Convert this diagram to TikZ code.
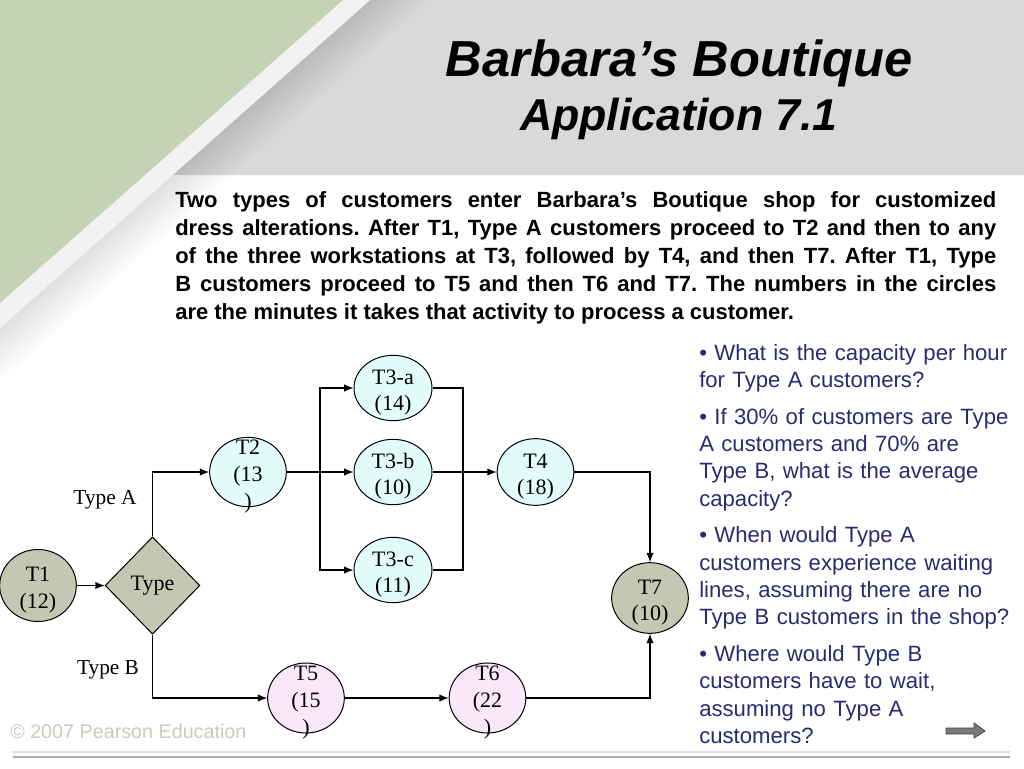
\documentclass[tikz,border=0pt]{standalone}
\usepackage{fontspec}
\setmainfont{Liberation Serif}
\newfontfamily\arialfont{Liberation Sans}
\usepackage{tikz}
\usetikzlibrary{positioning, calc}
\usetikzlibrary{arrows.meta, shapes.geometric}
\definecolor{headgray}{RGB}{217,217,217}
\definecolor{slidegreen}{RGB}{198,210,180}
\definecolor{olivefill}{RGB}{196,200,178}
\definecolor{cyanfill}{RGB}{226,252,252}
\definecolor{pinkfill}{RGB}{250,232,250}
\definecolor{quesblue}{RGB}{42,42,112}
\definecolor{footgray}{RGB}{200,204,190}
\tikzstyle{task}=[ellipse,draw=black,line width=0.75pt,inner sep=0pt,
minimum width=57.5pt,minimum height=51pt,font=\fontsize{16.5}{20}\selectfont]
\tikzstyle{decision}=[diamond,draw=black,line width=0.75pt,fill=olivefill,
inner sep=0pt,minimum width=71pt,minimum height=73pt,font=\fontsize{16.5}{20}\selectfont]
\tikzstyle{textbox}=[inner sep=0pt,font=\fontsize{16}{19}\selectfont]
\tikzstyle{edgepath} = [-{Latex[length=7pt,width=5.5pt]},line width=0.8pt]
\tikzstyle{wire} = [line width=0.8pt]
\newcommand{\tlines}[1]{\raisebox{-0.45em}[0pt][0pt]{\begin{tabular}{@{}c@{}}#1\end{tabular}}}

\begin{document}
\begin{tikzpicture}[x=0.75pt,y=-0.75pt]
    \useasboundingbox (0,0) rectangle (1024,768);
    % slide background
    \fill[headgray] (370,0) -- (1024,0) -- (1024,175) -- (172.6,175) -- cycle;
    \foreach \d in {4,8,...,40}
        \fill[black,fill opacity=0.012] (370,0) -- ({(245.5+\d)/0.6634},0)
            -- (0,{(245.5+\d)/0.7484}) -- (0,328) -- cycle;
    \fill[gray!10] (343,0) -- (370,0) -- (0,328) -- (0,303) -- cycle;
    \fill[slidegreen] (0,0) -- (343,0) -- (0,303) -- cycle;

    \node[align=center,font=\arialfont\bfseries\itshape\fontsize{38}{40.5}\selectfont]
        (title) at (679,89.5) {Barbara’s Boutique\\{\fontsize{33.5}{40.5}\selectfont Application 7.1}};
    \node[anchor=north west,text width=615.75pt,align=justify,inner sep=0pt,
        font=\arialfont\bfseries\fontsize{16.5}{21}\selectfont] (intro) at (175,191)
        {\tolerance=10000\hyphenpenalty=10000\frenchspacing
        Two types of customers enter Barbara’s Boutique shop for customized\linebreak
        dress alterations. After T1, Type A customers proceed to T2 and then to any\linebreak
        of the three workstations at T3, followed by T4, and then T7. After T1, Type\linebreak
        B customers proceed to T5 and then T6 and T7. The numbers in the circles\linebreak
        are the minutes it takes that activity to process a customer.};

    % process network
    \node[task, fill=olivefill, minimum height=54pt] (t1) at (38,585.5) {\tlines{T1\\(12)}};
    \node[decision] (type) at (152.5,585.5) {Type};
    \node[task, fill=cyanfill, minimum height=52pt] (t2) at (248,472) {\tlines{T2\\(13\\)}};
    \node[task, fill=cyanfill, minimum width=58.5pt, minimum height=49pt] (t3a) at (393,388) {\tlines{T3-a\\(14)}};
    \node[task, fill=cyanfill, minimum width=58.5pt, minimum height=49pt] (t3b) at (393,472) {\tlines{T3-b\\(10)}};
    \node[task, fill=cyanfill, minimum width=58.5pt, minimum height=49pt] (t3c) at (393,570) {\tlines{T3-c\\(11)}};
    \node[task, fill=cyanfill, minimum height=50pt] (t4) at (535.5,472) {\tlines{T4\\(18)}};
    \node[task, fill=olivefill, minimum height=53pt] (t7) at (650,598) {\tlines{T7\\(10)}};
    \node[task, fill=pinkfill, minimum height=52.5pt] (t5) at (306,698) {\tlines{T5\\(15\\)}};
    \node[task, fill=pinkfill, minimum height=52.5pt] (t6) at (487.5,698) {\tlines{T6\\(22\\)}};
    \node[textbox] (typea) at (105,500) {Type A};
    \node[textbox] (typeb) at (108,670) {Type B};
    \coordinate (fork) at (320,472);
    \coordinate (join) at (463,472);

    \draw[edgepath] (t1) -- (type);
    \draw[edgepath] (type.north) |- (t2);
    \draw[edgepath] (type.south) |- (t5);
    \draw[wire] (t2) -- (fork);
    \draw[edgepath] (fork) |- (t3a);
    \draw[edgepath] (fork) -- (t3b);
    \draw[edgepath] (fork) |- (t3c);
    \draw[wire] (t3a) -| (join) |- (t3c);
    \draw[edgepath] (t3b) -- (t4);
    \draw[edgepath] (t4) -| (t7);
    \draw[edgepath] (t5) -- (t6);
    \draw[edgepath] (t6) -| (t7);

    % questions
    \node[anchor=north west,text width=250pt,align=left,inner sep=0pt,text=quesblue,
        font=\arialfont\fontsize{16.6}{20.5}\selectfont] (ques) at (699,344)
        {• What is the capacity per hour\\for Type A customers?\\[7pt]
        • If 30\% of customers are Type\\A customers and 70\% are\\Type B, what is the average\\capacity?\\[7pt]
        • When would Type A\\customers experience waiting\\lines, assuming there are no\\Type B customers in the shop?\\[7pt]
        • Where would Type B\\customers have to wait,\\assuming no Type A\\customers?};

    % footer
    \node[anchor=west,inner sep=0pt,text=footgray,font=\arialfont\fontsize{14.8}{17}\selectfont]
        (copy) at (10,731) {© 2007 Pearson Education};
    \draw[gray!25,line width=1.6pt] (13,752) -- (1010,752);
    \draw[gray!65,line width=1.2pt] (13,757) -- (1010,757);
    \draw[black!75,fill=gray!95!black,line width=0.6pt] (946,728) -- (974,728) -- (974,723)
        -- (985,731) -- (974,738) -- (974,734) -- (946,734) -- cycle;
\end{tikzpicture}
\end{document}
